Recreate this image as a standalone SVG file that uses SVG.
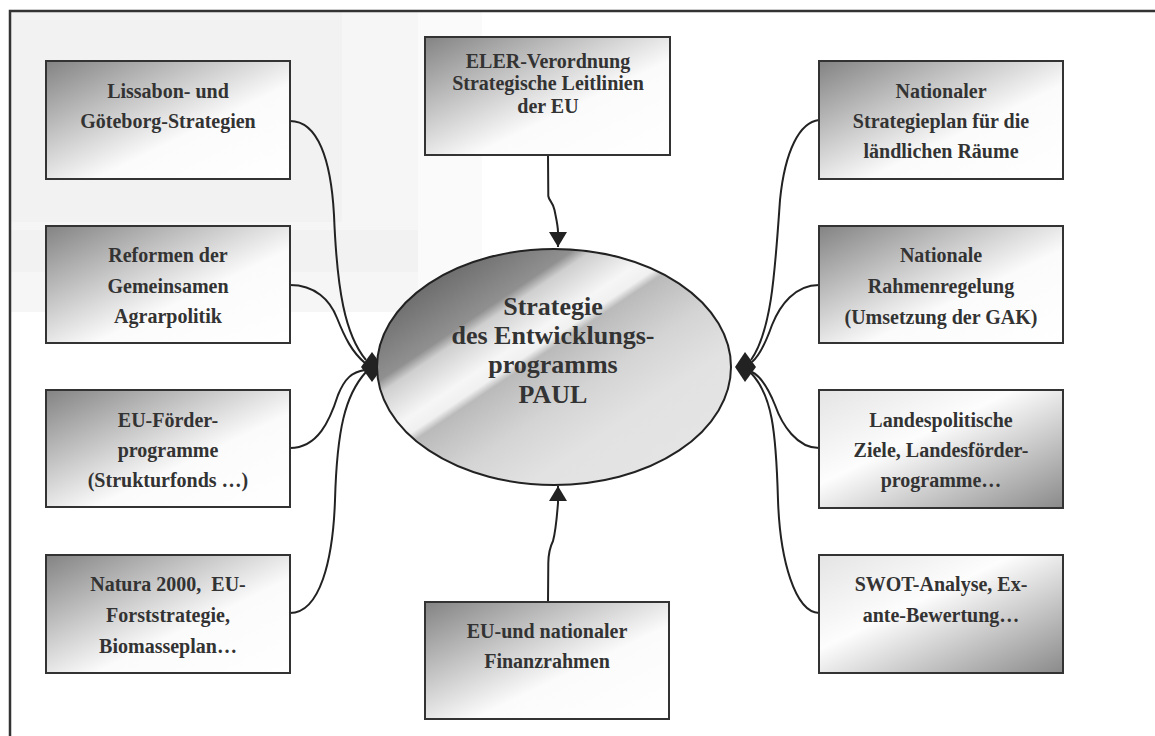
<svg xmlns="http://www.w3.org/2000/svg" width="1155" height="736" viewBox="0 0 1155 736">
  <style>
    .box { stroke: #333; stroke-width: 2; }
    .lbl { font-family: "Liberation Serif", "Times New Roman", serif; font-weight: bold; font-size: 20px; fill: #333; text-anchor: middle; }
    .big { font-size: 26px; }
    .con { fill: none; stroke: #222; stroke-width: 2; }
    .dia { fill: #222; }
  </style>
  <defs>
    <linearGradient id="gL" x1="0" y1="0" x2="1" y2="1">
      <stop offset="0" stop-color="#838383"/>
      <stop offset="0.6" stop-color="#fbfbfb"/>
      <stop offset="1" stop-color="#ffffff"/>
    </linearGradient>
    <linearGradient id="gR" x1="0" y1="0" x2="1" y2="1">
      <stop offset="0" stop-color="#e4e4e4"/>
      <stop offset="0.4" stop-color="#fdfdfd"/>
      <stop offset="1" stop-color="#8a8a8a"/>
    </linearGradient>
    <linearGradient id="gE" gradientUnits="userSpaceOnUse" x1="476.6" y1="251.6" x2="631.4" y2="482.4">
      <stop offset="0" stop-color="#6e6e6e"/>
      <stop offset="0.19" stop-color="#909090"/>
      <stop offset="0.23" stop-color="#cfcfcf"/>
      <stop offset="0.36" stop-color="#f6f6f6"/>
      <stop offset="0.41" stop-color="#f0f0f0"/>
      <stop offset="0.44" stop-color="#bababa"/>
      <stop offset="0.62" stop-color="#d4d4d4"/>
      <stop offset="0.8" stop-color="#e2e2e2"/>
      <stop offset="1" stop-color="#e4e4e4"/>
    </linearGradient>
    <marker id="arr" markerUnits="userSpaceOnUse" markerWidth="16" markerHeight="18" refX="15" refY="9" orient="auto" overflow="visible">
      <path d="M0,0 L15,9 L0,18 Z" fill="#222"/>
    </marker>
  </defs>

  <!-- background and frame -->
  <rect x="0" y="0" width="1155" height="736" fill="#ffffff"/>
  <rect x="11" y="12" width="471" height="300" fill="#fafafa"/>
  <rect x="11" y="12" width="407" height="300" fill="#f6f6f6"/>
  <rect x="11" y="12" width="331" height="210" fill="#f2f2f2"/>
  <rect x="11" y="230" width="407" height="42" fill="#f2f2f2"/>
  <path d="M10,736 L10,11 L1155,11" fill="none" stroke="#333" stroke-width="2.5"/>

  <!-- connectors -->
  <g id="connectors">
    <path class="con" d="M290,121 C318,121 331,160 334,215 C337,290 345,335 366,360"/>
    <path class="con" d="M290,285 C315,285 330,300 337,318 C345,338 352,352 365,363"/>
    <path class="con" d="M290,448 C318,448 330,420 338,395 C345,378 352,372 365,370"/>
    <path class="con" d="M290,613 C320,613 333,560 335,500 C337,430 345,395 366,372"/>
    <polygon class="dia" points="361,367 372,352 383,367 372,382"/>

    <path class="con" d="M819,120 C800,122 785,150 780,200 C775,270 772,330 751,360"/>
    <path class="con" d="M819,285 C795,285 780,305 772,325 C766,342 760,355 752,362"/>
    <path class="con" d="M819,448 C797,448 782,425 775,405 C769,390 762,377 752,372"/>
    <path class="con" d="M819,613 C795,612 780,560 778,500 C776,430 772,395 751,373"/>
    <polygon class="dia" points="735,367 745,352 756,367 745,382"/>

    <path class="con" d="M548,155 L548.3,196 C549,201 553,202 554.5,210 C556.5,220 558,226 558,232 L558,247" marker-end="url(#arr)"/>
    <path class="con" d="M548,602 L548.3,563 C548.5,552 550,547 553,541 C556,530 557,515 558,503 L558,486" marker-end="url(#arr)"/>
  </g>

  <!-- center -->
  <g id="center">
    <ellipse cx="554" cy="367" rx="177" ry="118" fill="url(#gE)" stroke="#222" stroke-width="2"/>
    <text class="lbl big" x="553" y="315">Strategie</text>
    <text class="lbl big" x="553" y="344">des Entwicklungs-</text>
    <text class="lbl big" x="553" y="373">programms</text>
    <text class="lbl big" x="553" y="403">PAUL</text>
  </g>

  <!-- left column -->
  <g id="lissabon">
    <rect class="box" x="46" y="61" width="244" height="118" fill="url(#gL)"/>
    <text class="lbl" x="168" y="98">Lissabon- und</text>
    <text class="lbl" x="168" y="128">Göteborg-Strategien</text>
  </g>
  <g id="reformen">
    <rect class="box" x="46" y="226" width="244" height="117" fill="url(#gL)"/>
    <text class="lbl" x="168" y="262">Reformen der</text>
    <text class="lbl" x="168" y="293">Gemeinsamen</text>
    <text class="lbl" x="168" y="323">Agrarpolitik</text>
  </g>
  <g id="eufoerder">
    <rect class="box" x="46" y="390" width="244" height="117" fill="url(#gL)"/>
    <text class="lbl" x="168" y="427">EU-Förder-</text>
    <text class="lbl" x="168" y="457">programme</text>
    <text class="lbl" x="168" y="487">(Strukturfonds …)</text>
  </g>
  <g id="natura">
    <rect class="box" x="46" y="555" width="244" height="118" fill="url(#gL)"/>
    <text class="lbl" x="168" y="591" xml:space="preserve">Natura 2000,  EU-</text>
    <text class="lbl" x="168" y="622">Forststrategie,</text>
    <text class="lbl" x="168" y="653">Biomasseplan…</text>
  </g>

  <!-- middle column -->
  <g id="eler">
    <rect class="box" x="425" y="37" width="245" height="118" fill="url(#gL)"/>
    <text class="lbl" x="548" y="68">ELER-Verordnung</text>
    <text class="lbl" x="548" y="90">Strategische Leitlinien</text>
    <text class="lbl" x="548" y="113">der EU</text>
  </g>
  <g id="finanz">
    <rect class="box" x="425" y="602" width="244" height="117" fill="url(#gL)"/>
    <text class="lbl" x="547" y="638">EU-und nationaler</text>
    <text class="lbl" x="547" y="668">Finanzrahmen</text>
  </g>

  <!-- right column -->
  <g id="nationaler">
    <rect class="box" x="819" y="61" width="244" height="118" fill="url(#gL)"/>
    <text class="lbl" x="941" y="98">Nationaler</text>
    <text class="lbl" x="941" y="128">Strategieplan für die</text>
    <text class="lbl" x="941" y="158">ländlichen Räume</text>
  </g>
  <g id="nationale">
    <rect class="box" x="819" y="226" width="244" height="117" fill="url(#gL)"/>
    <text class="lbl" x="941" y="262">Nationale</text>
    <text class="lbl" x="941" y="293">Rahmenregelung</text>
    <text class="lbl" x="941" y="324">(Umsetzung der GAK)</text>
  </g>
  <g id="landes">
    <rect class="box" x="819" y="390" width="244" height="118" fill="url(#gR)"/>
    <text class="lbl" x="941" y="427">Landespolitische</text>
    <text class="lbl" x="941" y="457">Ziele, Landesförder-</text>
    <text class="lbl" x="941" y="487">programme…</text>
  </g>
  <g id="swot">
    <rect class="box" x="819" y="555" width="244" height="118" fill="url(#gR)"/>
    <text class="lbl" x="941" y="591">SWOT-Analyse, Ex-</text>
    <text class="lbl" x="941" y="622">ante-Bewertung…</text>
  </g>
</svg>
